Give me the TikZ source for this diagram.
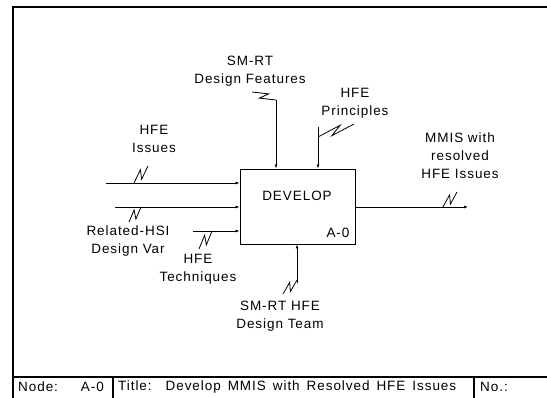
\documentclass[tikz,border=0pt]{standalone}
\usepackage{fontspec}
\setmainfont{Liberation Sans}[LetterSpace=7]
\usetikzlibrary{calc,arrows.meta,positioning}

\tikzset{
  lbl/.style={align=center, font=\fontsize{13.5}{18}\selectfont, inner sep=0pt},
  flow/.style={-{Latex[length=4pt,width=3pt]}, line width=0.8pt},
  squig/.style={line width=0.8pt},
  frame/.style={line width=1.2pt}
}
\newcommand{\squiggle}[2]{\draw[squig] (#1) -- ($(#1)!0.65!(#2)!3.5pt!90:(#2)$) -- ($(#1)!0.35!(#2)!3.5pt!-90:(#2)$) -- (#2);}

\begin{document}
\begin{tikzpicture}[x=1pt, y=-1pt]
    \useasboundingbox (0,0) rectangle (547,398);
    \draw[frame] (547,7) -- (13,7) -- (13,398);
    \draw[frame] (13,377) -- (547,377);
    \draw[frame] (113,377) -- (113,398);
    \draw[frame] (474,377) -- (474,398);
    \node[lbl, anchor=west] (nodelbl) at (18,387) {Node:};
    \node[lbl, anchor=east] (nodeid) at (104,387) {A-0};
    \node[lbl, anchor=west] (title) at (118,387) {\makebox[338pt][s]{Title:\ \ Develop MMIS with Resolved HFE Issues}};
    \node[lbl, anchor=west] (number) at (480,387) {No.:};

    \node[draw, line width=0.9pt, minimum width=115pt, minimum height=75pt, inner sep=0pt] (develop) at (297.5,206.5) {};
    \node[lbl] (devtext) at (297,196) {DEVELOP};
    \node[lbl] (boxid) at (338,233) {A-0};

    \node[lbl] (issues) at (154,139) {HFE\\Issues};
    \node[lbl] (hsivar) at (128,241) {Related-HSI\\Design Var};
    \node[lbl] (techs) at (198,269) {HFE\\Techniques};
    \node[lbl] (features) at (250,71) {SM-RT\\Design Features};
    \node[lbl] (principles) at (355,103) {HFE\\Principles};
    \node[lbl] (mmis) at (460,156) {MMIS with\\resolved\\HFE Issues};
    \node[lbl] (team) at (280,316) {SM-RT HFE\\Design Team};

    \coordinate (in1) at (106,183);
    \coordinate (in2) at (115,207);
    \coordinate (in3) at (193,231);
    \coordinate (ctl1) at (276,100);
    \coordinate (ctl2) at (318,127);
    \coordinate (out) at (468,207);
    \coordinate (mech) at (297,283);
    \draw[flow] (in1) -- (in1 -| develop.west);
    \draw[flow] (in2) -- (in2 -| develop.west);
    \draw[flow] (in3) -- (in3 -| develop.west);
    \draw[flow] (ctl1) -- (ctl1 |- develop.north);
    \draw[flow] (ctl2) -- (ctl2 |- develop.north);
    \draw[flow] (out -| develop.east) -- (out);
    \draw[flow] (mech) -- (mech |- develop.south);

    \coordinate (sq1) at (148,166);
    \coordinate (sq2) at (129,222);
    \coordinate (sq3) at (199,249);
    \coordinate (sq4) at (252,92);
    \coordinate (sq5) at (354,124);
    \coordinate (sq6) at (457,192);
    \coordinate (sq7) at (283,294);
    \squiggle{sq1}{in1 -| 134,0}
    \squiggle{sq2}{in2 -| 141,0}
    \squiggle{sq3}{in3 -| 212,0}
    \squiggle{sq4}{ctl1}
    \squiggle{sq5}{ctl2 |- 0,137}
    \squiggle{sq6}{out -| 443,0}
    \squiggle{sq7}{mech |- 0,280}
\end{tikzpicture}
\end{document}
